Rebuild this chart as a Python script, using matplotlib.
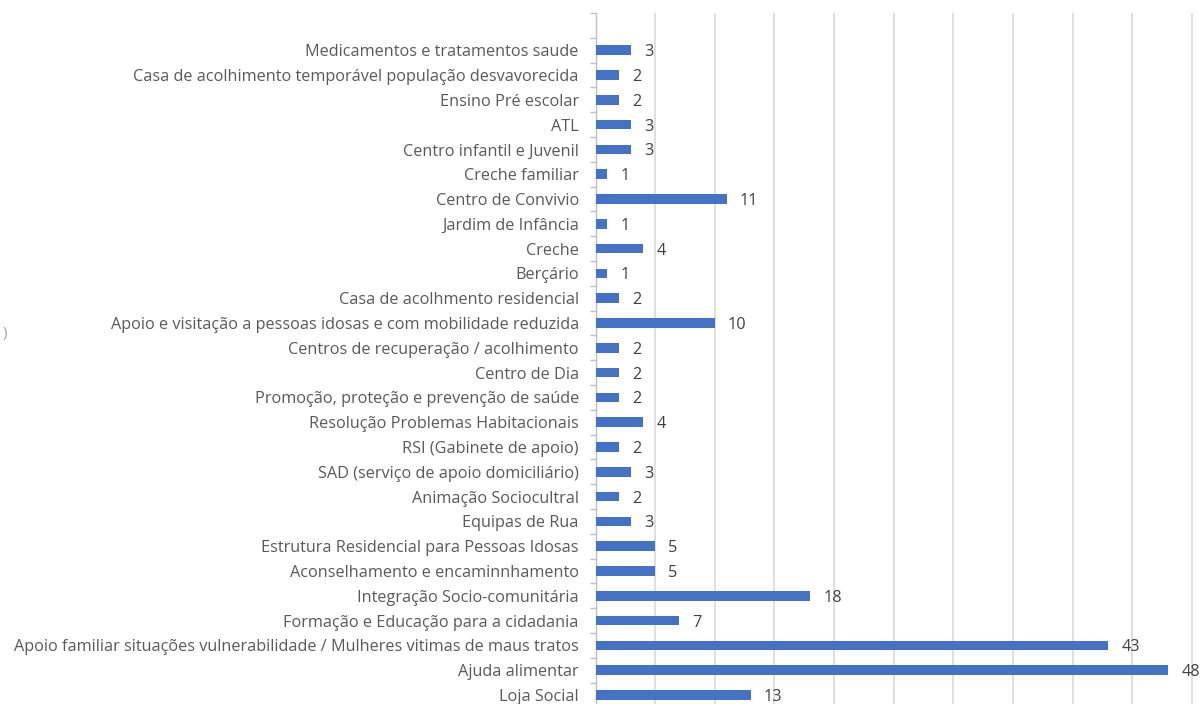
import matplotlib
matplotlib.use('Agg')
import matplotlib.pyplot as plt
import numpy as np

# categories listed bottom to top, as drawn
categories = [
    "Loja Social",
    "Ajuda alimentar",
    "Apoio familiar situações vulnerabilidade / Mulheres vitimas de maus tratos",
    "Formação e Educação para a cidadania",
    "Integração Socio-comunitária",
    "Aconselhamento e encaminnhamento",
    "Estrutura Residencial para Pessoas Idosas",
    "Equipas de Rua",
    "Animação Sociocultral",
    "SAD (serviço de apoio domiciliário)",
    "RSI (Gabinete de apoio)",
    "Resolução Problemas Habitacionais",
    "Promoção, proteção e prevenção de saúde",
    "Centro de Dia",
    "Centros de recuperação / acolhimento",
    "Apoio e visitação a pessoas idosas e com mobilidade reduzida",
    "Casa de acolhmento residencial",
    "Berçário",
    "Creche",
    "Jardim de Infância",
    "Centro de Convivio",
    "Creche familiar",
    "Centro infantil e Juvenil",
    "ATL",
    "Ensino Pré escolar",
    "Casa de acolhimento temporável população desvavorecida",
    "Medicamentos e tratamentos saude",
]
counts = [13, 48, 43, 7, 18, 5, 5, 3, 2, 3, 2, 4, 2, 2, 2, 10, 2, 1, 4, 1, 11, 1, 3, 3, 2, 2, 3]

W, H = 1201, 704
fig = plt.figure(figsize=(W / 100, H / 100), dpi=100)
plt.rcParams['font.family'] = ['Open Sans', 'DejaVu Sans']

# plot area: left edge at x=595px, top at 12.5px, runs past the bottom and right of the picture
ax = fig.add_axes([595.5 / W, 1 - 707.4 / H, (1201 - 595.5) / W, 694.4 / H])

y = np.arange(len(categories))
ax.barh(y, counts, height=0.38, color='#4472C4', zorder=3)
for yi, c in zip(y, counts):
    ax.text(c + 1.1, yi, str(c), va='center_baseline', ha='left', fontsize=11.7, color='#404040')

ax.set_xlim(0, (1201 - 595.5) / 11.93)
# one empty slot above the top category, as in the source chart
ax.set_ylim(-0.5, len(categories) + 0.5)
ax.set_xticks(np.arange(5, 55, 5))
ax.xaxis.grid(True, color='#d9d9d9', linewidth=1.2, zorder=0)
ax.tick_params(axis='x', bottom=False, labelbottom=False)

ax.set_yticks(y)
ax.set_yticklabels(categories, fontsize=11.7, color='#595959')
ax.set_yticks(np.arange(-0.5, len(categories) + 1, 1), minor=True)
ax.tick_params(axis='y', which='major', length=0, pad=12)
ax.tick_params(axis='y', which='minor', length=4, color='#bfbfbf', width=1)

for side in ['top', 'right', 'bottom']:
    ax.spines[side].set_visible(False)
ax.spines['left'].set_color('#bfbfbf')
ax.spines['left'].set_linewidth(1)

# stray clipped glyph at far left edge
fig.text(3 / W, 1 - 333 / H, ")", fontsize=11, color='#a6a6a6', va='center', ha='left')

fig.savefig('out.png', dpi=100)
